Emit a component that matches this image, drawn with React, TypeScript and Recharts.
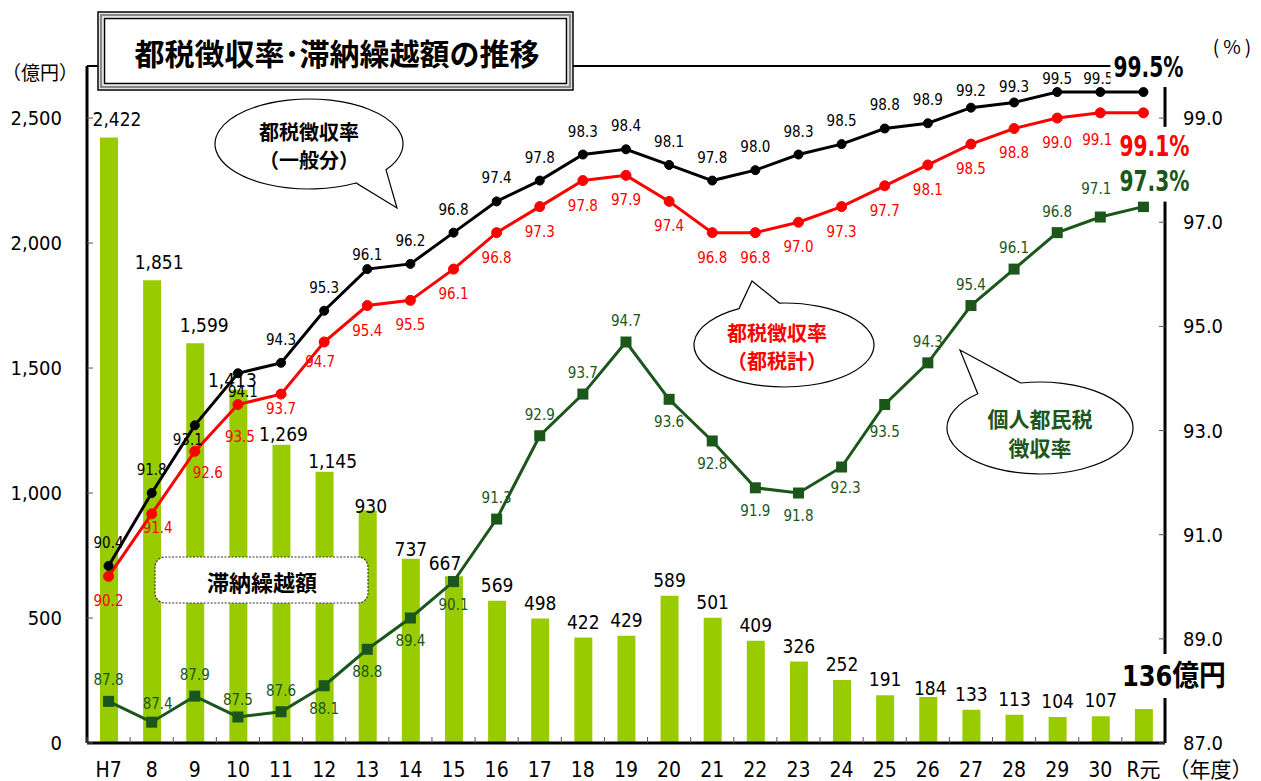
import React from "react";
import { ComposedChart, Bar, Line, XAxis, YAxis, ReferenceLine, LabelList } from "recharts";

const years = ["H7", "8", "9", "10", "11", "12", "13", "14", "15", "16", "17", "18", "19", "20", "21", "22", "23", "24", "25", "26", "27", "28", "29", "30", "R元"];
// 滞納繰越額（億円）
const arrears = [2422, 1851, 1599, 1413, 1269, 1145, 930, 737, 667, 569, 498, 422, 429, 589, 501, 409, 326, 252, 191, 184, 133, 113, 104, 107, 136];
// 都税徴収率（一般分）
const rateGeneral = [90.4, 91.8, 93.1, 94.1, 94.3, 95.3, 96.1, 96.2, 96.8, 97.4, 97.8, 98.3, 98.4, 98.1, 97.8, 98.0, 98.3, 98.5, 98.8, 98.9, 99.2, 99.3, 99.5, 99.5, 99.5];
// 都税徴収率（都税計）
const rateTotal = [90.2, 91.4, 92.6, 93.5, 93.7, 94.7, 95.4, 95.5, 96.1, 96.8, 97.3, 97.8, 97.9, 97.4, 96.8, 96.8, 97.0, 97.3, 97.7, 98.1, 98.5, 98.8, 99.0, 99.1, 99.1];
// 個人都民税徴収率
const rateResident = [87.8, 87.4, 87.9, 87.5, 87.6, 88.1, 88.8, 89.4, 90.1, 91.3, 92.9, 93.7, 94.7, 93.6, 92.8, 91.9, 91.8, 92.3, 93.5, 94.3, 95.4, 96.1, 96.8, 97.1, 97.3];
const amountTicks = [0, 500, 1000, 1500, 2000, 2500];
const rateTicks = [87, 89, 91, 93, 95, 97, 99];

const rows = years.map((year, i) => ({
  year,
  arrears: arrears[i],
  general: rateGeneral[i],
  total: rateTotal[i],
  resident: rateResident[i],
}));

const W = 1261;
const H = 781;
const PLOT_LEFT = 87;
const PLOT_RIGHT = 1165;
const PLOT_TOP = 66;
const PLOT_BOTTOM = 743;
const BAND = (PLOT_RIGHT - PLOT_LEFT) / years.length;
const AMOUNT_MAX = (2500 * 13) / 12; // left axis lines up with 87–100 on the right

const NARROW = '"Liberation Sans Narrow", "DejaVu Sans Condensed", "Noto Sans CJK JP", sans-serif';
const JP = '"Noto Sans CJK JP", sans-serif';
const GREEN = "#1B561B";
const RED = "#FF0000";
const LAST = years.length - 1;

// label nudges, same as the hand-placed labels in the original
const generalShift = (i: number): [number, number] => {
  const m: Record<number, [number, number]> = { 2: [-7, 15], 3: [5, 19], 6: [0, -14], 20: [0, -17], 21: [0, -15], 22: [0, -13], 23: [-2, -13] };
  return m[i] ?? [0, -23];
};
const totalShift = (i: number): [number, number] => {
  const m: Record<number, [number, number]> = { 1: [6, 14], 2: [13, 22], 3: [2, 32], 4: [0, 15], 5: [-4, 20], 23: [-3, 27] };
  return m[i] ?? [0, 25];
};
const residentBelow = new Set([5, 6, 7, 8, 13, 14, 15, 16, 17, 18]);
const residentShift = (i: number): [number, number] => {
  const m: Record<number, [number, number]> = { 1: [6, -18], 3: [0, -17], 17: [4, 21], 18: [0, 27], 23: [-4, -28] };
  if (m[i]) return m[i];
  return residentBelow.has(i) ? [0, 23] : [0, -21];
};
const barShift: Record<number, [number, number]> = {
  0: [8, -19], 1: [7, -18], 2: [9, -18], 3: [-6, -10], 4: [2, 8], 5: [8, 4], 6: [3, -5], 7: [0, -10], 8: [-9, -13], 19: [2, -9],
};
const boxedBars = new Set([1, 2, 4, 5]);

function pos(props: any) {
  const vb = props.viewBox || {};
  return {
    x: props.x ?? vb.x,
    y: props.y ?? vb.y,
    width: props.width ?? vb.width ?? 0,
  };
}

function rateLabel(color: string, shift: (i: number) => [number, number], big: [number, number]) {
  return (props: any) => {
    const { x, y } = pos(props);
    const i = props.index;
    const v = Number(props.value);
    if (i === LAST) {
      const tx = x + big[0];
      const ty = y + big[1];
      return (
        <g>
          <rect x={tx - 38} y={ty - 20} width={76} height={40} fill="#fff" />
          <text
            x={tx}
            y={ty}
            fill={color}
            fontSize={28}
            fontWeight={700}
            fontFamily={NARROW}
            textAnchor="middle"
            dominantBaseline="central"
            textLength={70}
            lengthAdjust="spacingAndGlyphs"
          >
            {v.toFixed(1)}%
          </text>
        </g>
      );
    }
    const [dx, dy] = shift(i);
    return (
      <text x={x + dx} y={y + dy} fill={color} fontSize={15} fontFamily={NARROW} textAnchor="middle" dominantBaseline="central">
        {v.toFixed(1)}
      </text>
    );
  };
}

function BarValue(props: any) {
  const { x, y, width } = pos(props);
  const i = props.index;
  const v = Number(props.value);
  const cx = x + width / 2;
  if (i === LAST) {
    const tx = cx + 30;
    const ty = y - 33;
    return (
      <g>
        <rect x={tx - 56} y={ty - 22} width={112} height={44} fill="#fff" />
        <text
          x={tx}
          y={ty}
          fontSize={29}
          fontWeight={700}
          fontFamily={NARROW}
          textAnchor="middle"
          dominantBaseline="central"
          fill="#000"
          textLength={104}
          lengthAdjust="spacingAndGlyphs"
        >
          {v}億円
        </text>
      </g>
    );
  }
  const [dx, dy] = barShift[i] ?? [0, -16];
  const tx = cx + dx;
  const ty = y + dy;
  return (
    <g>
      {boxedBars.has(i) && <rect x={tx - 26} y={ty - 11} width={52} height={22} fill="#fff" />}
      <text x={tx} y={ty} fontSize={19} fontFamily={NARROW} textAnchor="middle" dominantBaseline="central" fill="#000">
        {v.toLocaleString("en-US")}
      </text>
    </g>
  );
}

function YearTick(props: any) {
  const { x, payload } = props;
  return (
    <g>
      <line x1={x - BAND / 2} x2={x - BAND / 2} y1={PLOT_BOTTOM} y2={PLOT_BOTTOM - 6} stroke="#555" />
      <text x={x} y={PLOT_BOTTOM + 27} fontSize={21} fontFamily={NARROW} textAnchor="middle" dominantBaseline="central" fill="#000">
        {payload.value}
      </text>
      {payload.value === "R元" && (
        <text x={x + 25} y={PLOT_BOTTOM + 27} fontSize={21} fontFamily={NARROW} textAnchor="start" dominantBaseline="central" fill="#000">
          （年度）
        </text>
      )}
    </g>
  );
}

function AmountTick(props: any) {
  const { x, y, payload } = props;
  return (
    <g>
      <line x1={PLOT_LEFT} x2={PLOT_LEFT + 6} y1={y} y2={y} stroke="#555" />
      <text x={x} y={y} fontSize={20} fontFamily={NARROW} textAnchor="end" dominantBaseline="central" fill="#000">
        {payload.value.toLocaleString("en-US")}
      </text>
    </g>
  );
}

function RateTick(props: any) {
  const { x, y, payload } = props;
  return (
    <g>
      <line x1={PLOT_RIGHT} x2={PLOT_RIGHT - 6} y1={y} y2={y} stroke="#555" />
      <text x={x} y={y} fontSize={20} fontFamily={NARROW} textAnchor="start" dominantBaseline="central" fill="#000">
        {payload.value.toFixed(1)}
      </text>
    </g>
  );
}

function CircleDot(color: string, r: number) {
  return (p: any) => <circle key={`c-${p.index}`} cx={p.cx} cy={p.cy} r={r} fill={color} stroke={color} />;
}

function SquareDot(p: any) {
  return <rect key={`s-${p.index}`} x={p.cx - 5.5} y={p.cy - 5.5} width={11} height={11} fill={GREEN} />;
}

function bubblePath(cx: number, cy: number, rx: number, ry: number, a1: number, a2: number, tx: number, ty: number) {
  const p = (a: number) => [cx + rx * Math.cos((a * Math.PI) / 180), cy + ry * Math.sin((a * Math.PI) / 180)];
  const [x1, y1] = p(a1);
  const [x2, y2] = p(a2);
  return `M${x1},${y1} L${tx},${ty} L${x2},${y2} A${rx},${ry} 0 1 1 ${x1},${y1} Z`;
}

export default function App() {
  return (
    <div style={{ position: "absolute", left: 0, top: 0, width: W, height: H, background: "#fff" }}>
      <ComposedChart width={W} height={H} data={rows} margin={{ top: PLOT_TOP, right: 0, bottom: 0, left: 0 }}>
        <ReferenceLine yAxisId="rate" y={100} stroke="#000" strokeWidth={2} />
        <XAxis
          dataKey="year"
          height={38}
          interval={0}
          tickSize={0}
          tickLine={false}
          tick={<YearTick />}
          axisLine={{ stroke: "#000", strokeWidth: 3 }}
        />
        <YAxis
          yAxisId="amount"
          width={87}
          domain={[0, AMOUNT_MAX]}
          ticks={amountTicks}
          tickSize={0}
          tickMargin={25}
          tickLine={false}
          tick={<AmountTick />}
          axisLine={{ stroke: "#000", strokeWidth: 3 }}
        />
        <YAxis
          yAxisId="rate"
          orientation="right"
          width={96}
          domain={[87, 100]}
          ticks={rateTicks}
          tickSize={0}
          tickMargin={18}
          tickLine={false}
          tick={<RateTick />}
          axisLine={{ stroke: "#000", strokeWidth: 3 }}
        />
        <Bar yAxisId="amount" dataKey="arrears" fill="#99CC00" barSize={18} isAnimationActive={false}>
          <LabelList dataKey="arrears" content={BarValue} />
        </Bar>
        <Line yAxisId="rate" dataKey="resident" stroke={GREEN} strokeWidth={3} dot={SquareDot} isAnimationActive={false}>
          <LabelList dataKey="resident" content={rateLabel(GREEN, residentShift, [11, -25])} />
        </Line>
        <Line yAxisId="rate" dataKey="total" stroke={RED} strokeWidth={3} dot={CircleDot(RED, 5)} isAnimationActive={false}>
          <LabelList dataKey="total" content={rateLabel(RED, totalShift, [11, 34])} />
        </Line>
        <Line yAxisId="rate" dataKey="general" stroke="#000" strokeWidth={3} dot={CircleDot("#000", 4.5)} isAnimationActive={false}>
          <LabelList dataKey="general" content={rateLabel("#000", generalShift, [5, -25])} />
        </Line>
      </ComposedChart>

      <svg width={W} height={H} style={{ position: "absolute", left: 0, top: 0, pointerEvents: "none" }}>
        {/* title box */}
        <rect x={98} y={12} width={475} height={78} fill="#fff" stroke="#000" strokeWidth={1.5} />
        <rect x={101} y={15} width={469} height={72} fill="none" stroke="#888" strokeWidth={2.5} />
        <rect x={104.5} y={18.5} width={462} height={65} fill="none" stroke="#000" strokeWidth={1.5} />
        <text x={337} y={52} fontSize={30} fontWeight={700} fontFamily={JP} textAnchor="middle" dominantBaseline="central" fill="#000">
          都税徴収率･滞納繰越額の推移
        </text>

        <text x={40} y={71} fontSize={19} fontFamily={JP} textAnchor="middle" dominantBaseline="central" fill="#000">
          （億円）
        </text>
        <text x={1234} y={45} fontSize={19} fontFamily={JP} textAnchor="middle" dominantBaseline="central" fill="#000" letterSpacing={4}>
          (%)
        </text>

        {/* bubbles */}
        <path d={bubblePath(309, 144, 94, 45, 35, 60, 397, 208)} fill="#fff" stroke="#000" strokeWidth={1.2} />
        <text x={309} y={131} fontSize={20} fontWeight={700} fontFamily={JP} textAnchor="middle" dominantBaseline="central" fill="#000">
          都税徴収率
        </text>
        <text x={309} y={159} fontSize={20} fontWeight={700} fontFamily={JP} textAnchor="middle" dominantBaseline="central" fill="#000">
          （一般分）
        </text>

        <path d={bubblePath(784, 345, 90, 42, 240, 267, 752, 281)} fill="#fff" stroke="#000" strokeWidth={1.2} />
        <text x={777} y={332} fontSize={20} fontWeight={700} fontFamily={JP} textAnchor="middle" dominantBaseline="central" fill={RED}>
          都税徴収率
        </text>
        <text x={777} y={360} fontSize={20} fontWeight={700} fontFamily={JP} textAnchor="middle" dominantBaseline="central" fill={RED}>
          （都税計）
        </text>

        <path d={bubblePath(1040, 428, 93, 46, 228, 258, 960, 350)} fill="#fff" stroke="#000" strokeWidth={1.2} />
        <text x={1040} y={418} fontSize={21} fontWeight={700} fontFamily={JP} textAnchor="middle" dominantBaseline="central" fill={GREEN}>
          個人都民税
        </text>
        <text x={1040} y={447} fontSize={21} fontWeight={700} fontFamily={JP} textAnchor="middle" dominantBaseline="central" fill={GREEN}>
          徴収率
        </text>

        {/* 滞納繰越額 tag */}
        <rect x={155} y={557} width={213} height={46} rx={10} fill="#fff" stroke="#333" strokeWidth={1.2} strokeDasharray="2 1.5" />
        <text x={262} y={581} fontSize={22} fontWeight={700} fontFamily={JP} textAnchor="middle" dominantBaseline="central" fill="#000">
          滞納繰越額
        </text>
      </svg>
    </div>
  );
}
